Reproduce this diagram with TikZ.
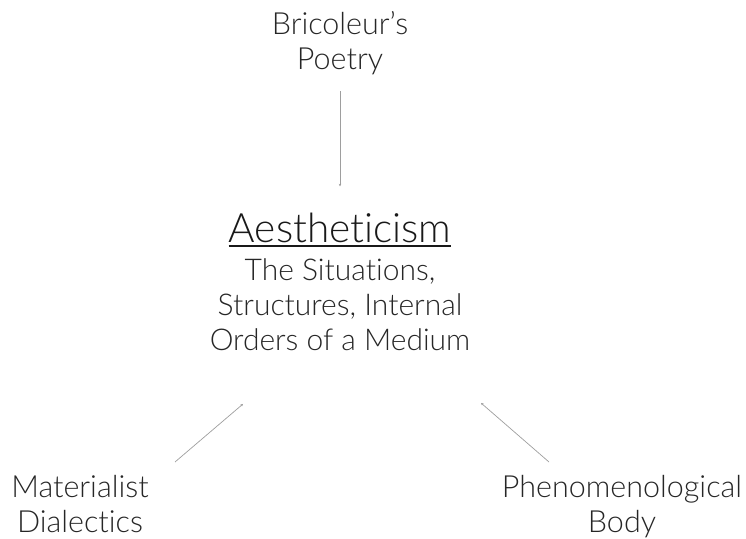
\documentclass[tikz,border=0pt]{standalone}
\usepackage{fontspec}
\setmainfont{Lato}[UprightFont={* Light}, Ligatures={NoCommon}]
\usetikzlibrary{arrows.meta}
\usetikzlibrary{positioning}

\begin{document}
\begin{tikzpicture}[x=1pt, y=1pt,
  idea/.style={align=center, inner sep=0pt, text=black!85, font=\fontsize{30.5}{35}\selectfont},
  link/.style={-{Stealth[length=2.5pt,width=2.5pt]}, draw=black!38, line width=0.7pt}]
  \useasboundingbox (0,0) rectangle (746,538);

  \node (aes) [inner sep=0pt, text=black!90, font=\fontsize{40.5}{46}\selectfont, anchor=base] at (340,295) {Aestheticism};
  \draw [line width=2pt, black!90] ([yshift=-3pt]aes.base west) -- ([yshift=-3pt]aes.base east);
  \node (medium) [idea, font=\fontsize{30}{35}\selectfont, below=15pt of aes] {The Situations,\\ Structures, Internal\\ Orders of a Medium};
  \node (poetry) [idea, above=138pt of aes] {Bricoleur’s\\ Poetry};
  \node (mat) [idea, anchor=north] at (80,63) {Materialist\\ Dialectics};
  \node (phen) [idea, anchor=north] at (622,63) {Phenomenological\\ Body};

  \draw [link, shorten <=16pt, shorten >=27pt] (poetry) -- (aes);
  \draw [link] ([xshift=95pt, yshift=13pt]mat.north) -- ([xshift=-97pt, yshift=-53pt]medium.south);
  \draw [link] ([xshift=-73pt, yshift=13pt]phen.north) -- ([xshift=141pt, yshift=-52pt]medium.south);
\end{tikzpicture}
\end{document}
